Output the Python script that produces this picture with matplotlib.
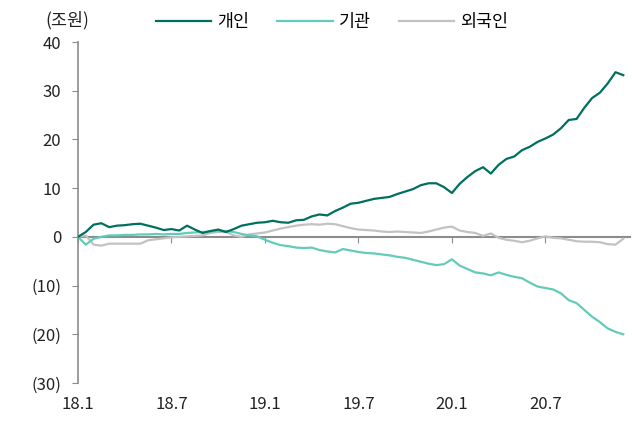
import numpy as np
import matplotlib.pyplot as plt
import matplotlib.transforms as mtransforms

plt.rcParams['font.family'] = ['Noto Sans CJK KR', 'DejaVu Sans']

# cumulative net buying (trillion won), half-month steps from 18.1
individual = [0, 1.0, 2.5, 2.8, 2.0, 2.3, 2.4, 2.6, 2.7, 2.3,
              1.9, 1.4, 1.6, 1.3, 2.3, 1.5, 0.8, 1.2, 1.5, 1.0,
              1.6, 2.3, 2.6, 2.9, 3.0, 3.3, 3.0, 2.9, 3.4, 3.5,
              4.2, 4.6, 4.4, 5.3, 6.0, 6.8, 7.0, 7.4, 7.8, 8.0,
              8.2, 8.8, 9.3, 9.8, 10.6, 11.0, 11.0, 10.2, 9.0, 10.9,
              12.3, 13.5, 14.3, 13.0, 14.8, 16.0, 16.5, 17.8, 18.5, 19.5,
              20.2, 21.0, 22.3, 24.0, 24.2, 26.5, 28.5, 29.6, 31.5, 33.8,
              33.2]
institution = [0, -1.6, -0.4, 0, 0.3, 0.3, 0.4, 0.4, 0.5, 0.5,
               0.6, 0.5, 0.6, 0.6, 0.8, 0.9, 1.0, 1.1, 1.2, 1.2,
               1.0, 0.6, 0.3, 0.1, -0.6, -1.2, -1.7, -1.9, -2.2, -2.3,
               -2.2, -2.7, -3.0, -3.2, -2.5, -2.8, -3.1, -3.3, -3.4, -3.6,
               -3.8, -4.1, -4.3, -4.7, -5.1, -5.5, -5.8, -5.6, -4.6, -5.9,
               -6.6, -7.3, -7.5, -7.9, -7.3, -7.8, -8.2, -8.5, -9.4, -10.2,
               -10.5, -10.8, -11.6, -13.0, -13.6, -15.0, -16.4, -17.5, -18.8, -19.5,
               -20.0]
foreign = [0, 0.3, -1.6, -1.8, -1.4, -1.4, -1.4, -1.4, -1.4, -0.7,
           -0.5, -0.3, -0.1, 0, 0.1, 0.2, 0.3, 0.8, 1.0, 1.0,
           0.3, 0, 0.5, 0.7, 0.9, 1.3, 1.7, 2.0, 2.3, 2.5,
           2.6, 2.5, 2.7, 2.6, 2.2, 1.8, 1.5, 1.4, 1.3, 1.1,
           1.0, 1.1, 1.0, 0.9, 0.8, 1.1, 1.5, 1.9, 2.1, 1.3,
           1.0, 0.8, 0.2, 0.7, -0.2, -0.6, -0.8, -1.1, -0.8, -0.3,
           0.1, -0.2, -0.3, -0.6, -0.9, -1.0, -1.0, -1.1, -1.5, -1.6,
           -0.4]

tick_months = [0, 6, 12, 18, 24, 30]
tick_labels = ['18.1', '18.7', '19.1', '19.7', '20.1', '20.7']
y_ticks = [40, 30, 20, 10, 0, -10, -20, -30]
y_labels = ['40', '30', '20', '10', '0', '(10)', '(20)', '(30)']

months = np.arange(len(individual)) * 0.5

fig = plt.figure(figsize=(6.32, 4.24), dpi=100)
ax = fig.add_axes([0.1234, 0.0967, 0.8734, 0.8042])

ax.plot(months, individual, color='#00705e', lw=1.6, label='개인', zorder=4)
ax.plot(months, institution, color='#63cbb9', lw=1.6, label='기관', zorder=3)
ax.plot(months, foreign, color='#c2c2c2', lw=1.6, label='외국인', zorder=2)

ax.set_xlim(0, 35.43)
ax.set_ylim(-30, 40)

for s in ['top', 'right']:
    ax.spines[s].set_visible(False)
ax.spines['left'].set_color('#8c8c8c')
ax.spines['left'].set_linewidth(1.2)
ax.spines['bottom'].set_position(('data', 0))
ax.spines['bottom'].set_color('#8c8c8c')
ax.spines['bottom'].set_linewidth(1.5)
ax.spines['bottom'].set_zorder(1)

ax.set_yticks(y_ticks)
ax.set_yticklabels(y_labels, fontsize=12, color='#222222')
ax.tick_params(axis='y', direction='out', length=4, color='#8c8c8c', pad=8)

ax.set_xticks(tick_months)
ax.tick_params(axis='x', direction='out', length=4, color='#8c8c8c', labelbottom=False)
trans = mtransforms.blended_transform_factory(ax.transData, ax.transAxes)
for m, lab in zip(tick_months, tick_labels):
    ax.text(m, -0.064, lab, transform=trans, ha='center', va='center', fontsize=12, color='#222222')

fig.text(67 / 632, 1 - 20 / 424, '(조원)', ha='center', va='center', fontsize=12.5, color='#222222')

fig.legend(loc='center', bbox_to_anchor=(332 / 632, 1 - 22 / 424), ncol=3, frameon=False,
           fontsize=12.5, handlelength=3.2, handletextpad=0.35, columnspacing=1.6)

fig.savefig('out.png', dpi=100)
